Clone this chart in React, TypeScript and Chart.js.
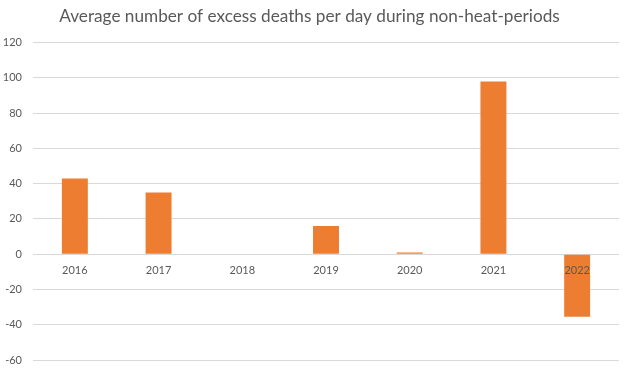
import React, { useEffect, useRef } from "react";
import { Chart, registerables } from "chart.js";

Chart.register(...registerables);

const categories = ["2016", "2017", "2018", "2019", "2020", "2021", "2022"];
const excessDeaths = [43, 35, 0, 16, 1, 98, -35.5];
const yMin = -60;
const yMax = 120;
const yStep = 20;
const titleText = "Average number of excess deaths per day during non-heat-periods";

export default function App() {
  const ref = useRef<HTMLCanvasElement | null>(null);
  useEffect(() => {
    document.body.style.margin = "0";
    const ctx = ref.current!;
    const chart = new Chart(ctx, {
      type: "bar",
      data: {
        labels: categories,
        datasets: [
          {
            data: excessDeaths,
            backgroundColor: "#ED7D31",
            borderWidth: 0,
            categoryPercentage: 1,
            barPercentage: 0.31,
          },
        ],
      },
      options: {
        responsive: false,
        animation: false,
        layout: { padding: { left: 0, right: 13, top: 0, bottom: 10 } },
        plugins: {
          legend: { display: false },
          tooltip: { enabled: false },
          title: {
            display: true,
            text: titleText,
            color: "#595959",
            font: { family: "Lato", size: 17.2, weight: "normal" },
            padding: { top: 6, bottom: 16 },
          },
        },
        scales: {
          x: {
            position: { y: 0 } as any,
            grid: { display: false, drawTicks: false },
            border: { display: false },
            ticks: {
              z: 1,
              color: "#595959",
              font: { family: "Lato", size: 11 },
              padding: 10,
              maxRotation: 0,
              autoSkip: false,
            },
          },
          y: {
            min: yMin,
            max: yMax,
            afterFit: (scale: any) => {
              scale.width = 33;
            },
            grid: {
              color: "#D9D9D9",
              lineWidth: 1,
              drawTicks: true,
              tickLength: 8,
              tickColor: "rgba(0,0,0,0)",
            },
            border: { display: false },
            ticks: {
              stepSize: yStep,
              color: "#595959",
              font: { family: "Lato", size: 11 },
              padding: 3,
            },
          },
        },
      },
    });
    return () => chart.destroy();
  }, []);
  return (
    <div style={{ position: "fixed", left: 0, top: 0, width: 632, height: 370, background: "#fff" }}>
      <canvas ref={ref} width={632} height={370} />
    </div>
  );
}
